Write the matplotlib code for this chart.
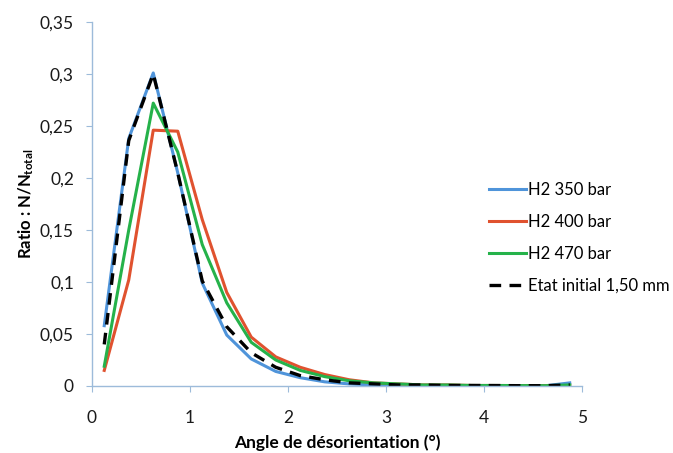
import matplotlib
matplotlib.use('Agg')
import matplotlib.pyplot as plt

# Misorientation angle bins (deg)
angles = [0.125, 0.375, 0.625, 0.875, 1.125, 1.375, 1.625, 1.875, 2.125, 2.375,
          2.625, 2.875, 3.125, 3.375, 3.625, 3.875, 4.125, 4.375, 4.625, 4.875]

h2_350 = [0.058, 0.238, 0.301, 0.205, 0.099, 0.049, 0.026, 0.014, 0.008, 0.004,
          0.002, 0.001, 0.001, 0.0005, 0.0005, 0.0003, 0.0003, 0.0002, 0.0002, 0.003]
h2_400 = [0.015, 0.102, 0.246, 0.245, 0.160, 0.090, 0.047, 0.028, 0.018, 0.011,
          0.006, 0.003, 0.002, 0.001, 0.001, 0.0005, 0.0005, 0.0004, 0.0003, 0.0005]
h2_470 = [0.019, 0.150, 0.272, 0.225, 0.136, 0.080, 0.042, 0.025, 0.015, 0.009,
          0.005, 0.003, 0.002, 0.001, 0.001, 0.0005, 0.0005, 0.0004, 0.0003, 0.001]
etat_initial = [0.040, 0.236, 0.300, 0.205, 0.101, 0.057, 0.032, 0.018, 0.010, 0.006,
                0.003, 0.002, 0.001, 0.001, 0.0005, 0.0005, 0.0004, 0.0003, 0.0003, 0.001]

labels = ['H2 350 bar', 'H2 400 bar', 'H2 470 bar', 'Etat initial 1,50 mm']

yticks = [0, 0.05, 0.1, 0.15, 0.2, 0.25, 0.3, 0.35]
ytick_labels = ['0', '0,05', '0,1', '0,15', '0,2', '0,25', '0,3', '0,35']
xticks = [0, 1, 2, 3, 4, 5]

plt.rcParams['font.family'] = ['Lato', 'DejaVu Sans']
plt.rcParams['mathtext.default'] = 'regular'

axis_col = '#9DBBDA'

fig = plt.figure(figsize=(6.73, 4.53), dpi=100)
ax = fig.add_axes([92 / 673, 1 - 386 / 453, 490 / 673, 364 / 453])

ax.plot(angles, h2_350, color='#4F94DA', lw=2.2, label=labels[0])
ax.plot(angles, h2_400, color='#E0522F', lw=2.2, label=labels[1])
ax.plot(angles, h2_470, color='#25B24A', lw=2.2, label=labels[2])
ax.plot(angles, etat_initial, color='black', lw=2.4, ls=(0, (3.5, 2.5)), label=labels[3])

ax.set_xlim(0, 5)
ax.set_ylim(0, 0.35)
ax.set_xticks(xticks)
ax.set_yticks(yticks)
ax.set_yticklabels(ytick_labels)

for s in ['top', 'right']:
    ax.spines[s].set_visible(False)
for s in ['left', 'bottom']:
    ax.spines[s].set_color(axis_col)
    ax.spines[s].set_linewidth(1.0)
ax.tick_params(axis='both', direction='out', length=4, color=axis_col,
               labelsize=12.5, labelcolor='#1a1a1a')
ax.tick_params(axis='y', pad=9)
ax.tick_params(axis='x', pad=13)

ax.set_xlabel('Angle de désorientation (°)', fontsize=12.5, fontweight='bold', labelpad=6)
ax.set_ylabel('Ratio : N/N$_{total}$', fontsize=12, fontweight='bold', labelpad=3)

ax.legend(loc='center left', bbox_to_anchor=(474 / 673, 1 - 238 / 453),
          bbox_transform=fig.transFigure, frameon=False, fontsize=12,
          handlelength=2.2, handletextpad=0.12, labelspacing=0.95)

fig.savefig('out.png', dpi=100)
